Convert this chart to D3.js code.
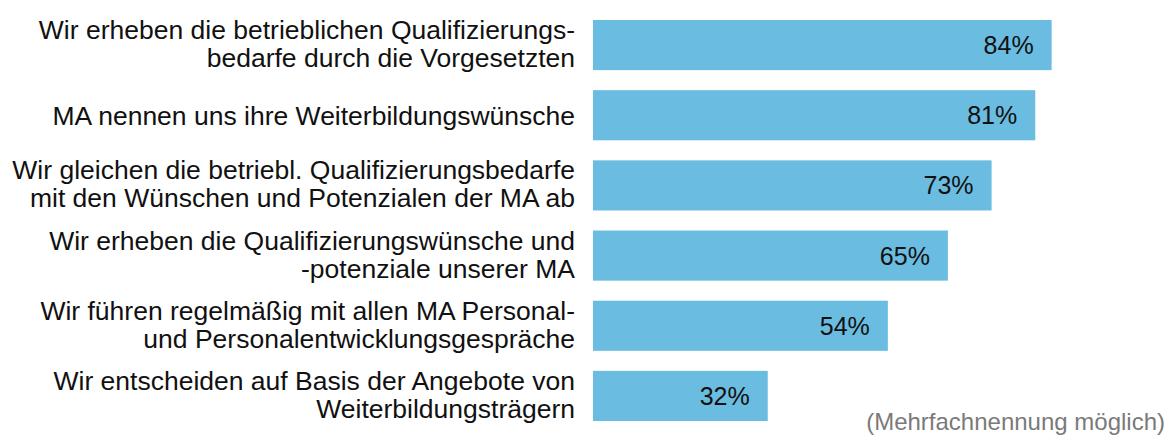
<!DOCTYPE html>
<html>
<head>
<meta charset="utf-8">
<script src="https://cdn.jsdelivr.net/npm/d3@7"></script>
<style>
  body { margin: 0; background: #fff; }
  text { font-family: "Liberation Sans", Arial, sans-serif; }
</style>
</head>
<body>
<svg id="chart" width="1169" height="435"></svg>
<script>
// answers, one entry per line of the label
const categories = [
  ["Wir erheben die betrieblichen Qualifizierungs-", "bedarfe durch die Vorgesetzten"],
  ["MA nennen uns ihre Weiterbildungswünsche"],
  ["Wir gleichen die betriebl. Qualifizierungsbedarfe", "mit den Wünschen und Potenzialen der MA ab"],
  ["Wir erheben die Qualifizierungswünsche und", "-potenziale unserer MA"],
  ["Wir führen regelmäßig mit allen MA Personal-", "und Personalentwicklungsgespräche"],
  ["Wir entscheiden auf Basis der Angebote von", "Weiterbildungsträgern"]
];
const values = [84, 81, 73, 65, 54, 32];
const note = "(Mehrfachnennung möglich)";

const data = categories.map((c, i) => ({ id: i, lines: c, value: values[i] }));

const svg = d3.select("#chart");

const x = d3.scaleLinear()
  .domain([0, 100])
  .range([593, 593 + 546]);

const y = d3.scaleBand()
  .domain(data.map(d => d.id))
  .range([20, 421])
  .paddingInner(20 / 70)
  .paddingOuter(0);

const rows = svg.append("g")
  .selectAll("g")
  .data(data)
  .join("g")
  .attr("transform", d => `translate(0, ${y(d.id)})`);

rows.append("rect")
  .attr("x", x(0))
  .attr("y", 0)
  .attr("width", d => x(d.value) - x(0))
  .attr("height", y.bandwidth())
  .attr("fill", "#6abce0");

// value inside the bar, near its end
rows.append("text")
  .attr("x", d => x(d.value) - 18)
  .attr("y", y.bandwidth() / 2)
  .attr("dy", "0.36em")
  .attr("text-anchor", "end")
  .attr("font-size", 25)
  .attr("fill", "#111")
  .text(d => `${d.value}%`);

// category labels, right aligned against the bars
const lineH = 28;
rows.append("text")
  .attr("text-anchor", "end")
  .attr("font-size", 26.5)
  .attr("fill", "#111")
  .selectAll("tspan")
  .data(d => d.lines.map((l, i) => ({ l, i, n: d.lines.length })))
  .join("tspan")
  .attr("x", 575)
  .attr("y", t => y.bandwidth() / 2 + (t.i - (t.n - 1) / 2) * lineH)
  .attr("dy", t => t.n > 1 ? "0.3em" : "0.36em")
  .text(t => t.l);

svg.append("text")
  .attr("x", 1165)
  .attr("y", 430)
  .attr("text-anchor", "end")
  .attr("font-size", 24)
  .attr("fill", "#7a7a7a")
  .text(note);
</script>
</body>
</html>
